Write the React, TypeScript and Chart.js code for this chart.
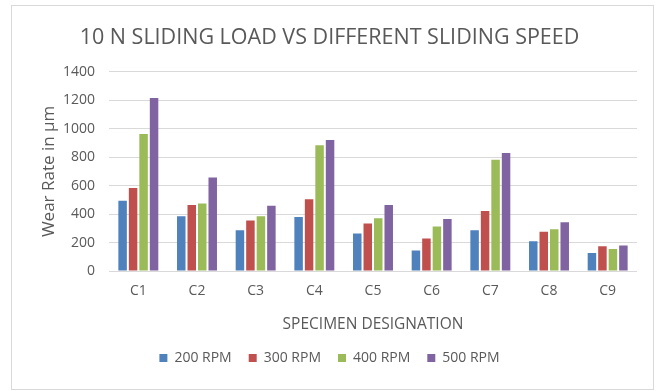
import React, { useEffect, useRef } from "react";
import { Chart, registerables } from "chart.js";

Chart.register(...registerables);

// Specimens C1..C9 under a 10 N sliding load
const categories = ["C1", "C2", "C3", "C4", "C5", "C6", "C7", "C8", "C9"];

// Wear rate (µm) per sliding speed
const rpm200 = [493, 385, 287, 380, 263, 144, 287, 209, 127];
const rpm300 = [583, 463, 355, 505, 334, 228, 421, 275, 174];
const rpm400 = [963, 475, 385, 884, 371, 313, 782, 294, 155];
const rpm500 = [1215, 658, 458, 921, 463, 366, 829, 343, 179];

const seriesLabels = ["200 RPM", "300 RPM", "400 RPM", "500 RPM"];
const seriesColors = ["#4F81BD", "#C0504D", "#9BBB59", "#8064A2"];

const yMin = 0;
const yMax = 1400;
const yStep = 200;

const TEXT = "#595959";
const GRID = "#d9d9d9";
const FONT = "'Open Sans', 'DejaVu Sans', sans-serif";

export default function App() {
  const canvasRef = useRef<HTMLCanvasElement | null>(null);

  useEffect(() => {
    const canvas = canvasRef.current;
    if (!canvas) return;
    const values = [rpm200, rpm300, rpm400, rpm500];
    const chart = new Chart(canvas, {
      type: "bar",
      data: {
        labels: categories,
        datasets: values.map((v, i) => ({
          label: seriesLabels[i],
          data: v,
          backgroundColor: seriesColors[i],
          borderWidth: 0,
          categoryPercentage: 0.715,
          barPercentage: 0.81,
        })),
      },
      options: {
        responsive: false,
        animation: false,
        maintainAspectRatio: false,
        layout: { padding: { left: 10, right: 16, top: 0, bottom: 14 } },
        plugins: {
          title: {
            display: true,
            text: "10 N SLIDING LOAD VS DIFFERENT SLIDING SPEED",
            color: TEXT,
            font: { family: FONT, size: 21.5, weight: "normal" },
            padding: { top: 19, bottom: 21 },
          },
          legend: {
            position: "bottom",
            labels: {
              color: TEXT,
              font: { family: FONT, size: 14 },
              boxWidth: 8,
              boxHeight: 8,
              padding: 17,
            },
          },
          tooltip: { enabled: false },
        },
        scales: {
          x: {
            grid: { display: false, drawTicks: false },
            border: { display: false },
            ticks: {
              color: TEXT,
              font: { family: FONT, size: 14 },
              padding: 12,
            },
            title: {
              display: true,
              text: "SPECIMEN DESIGNATION",
              color: TEXT,
              font: { family: FONT, size: 15.5 },
              padding: { top: 2, bottom: 0 },
            },
            afterFit: (s: any) => {
              s.height = 63;
            },
          },
          y: {
            min: yMin,
            max: yMax,
            grid: { color: GRID, drawTicks: false, lineWidth: 1 },
            border: { display: false },
            ticks: {
              stepSize: yStep,
              color: TEXT,
              font: { family: FONT, size: 14 },
              padding: 14,
              callback: (v: any) => String(v),
            },
            title: {
              display: true,
              text: "Wear Rate in µm",
              color: TEXT,
              font: { family: FONT, size: 17 },
              padding: { top: 17, bottom: 0 },
            },
            afterFit: (s: any) => {
              s.width = 87;
            },
          },
        },
      },
    });
    return () => chart.destroy();
  }, []);

  return (
    <div
      style={{
        position: "fixed",
        left: 11,
        top: 5,
        width: 641,
        height: 383,
        border: "1px solid #d9d9d9",
        background: "#fff",
      }}
    >
      <canvas ref={canvasRef} width={641} height={383} style={{ display: "block" }} />
    </div>
  );
}
